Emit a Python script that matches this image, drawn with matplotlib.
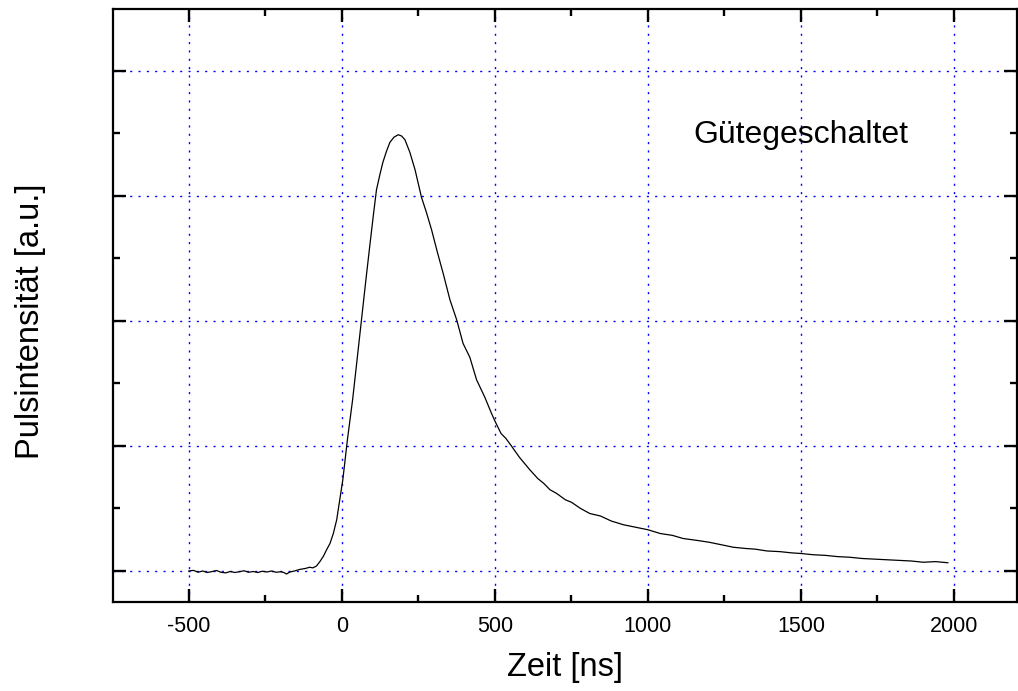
import numpy as np
import matplotlib.pyplot as plt
from matplotlib.ticker import MultipleLocator

plt.rcParams['font.family'] = ['Liberation Sans', 'DejaVu Sans']

# pulse trace (time in ns, intensity in a.u.)
zeit = [-500, -485, -470, -455, -440, -425, -410, -395, -380, -365, -350,
        -335, -320, -305, -290, -275, -260, -245, -230, -215, -200, -190,
        -181, -170, -155, -137, -120, -105, -95, -83, -72, -60, -50, -39,
        -28, -17, -7, 3, 18, 35, 50, 64, 78, 92, 103, 113, 124, 134, 146,
        157, 170, 184, 195, 206, 222, 239, 260, 276, 293, 312, 331, 353,
        375, 396, 418, 440, 467, 489, 500, 520, 536, 554, 580, 597, 614,
        640, 660, 680, 702, 730, 750, 780, 810, 845, 880, 920, 960, 1000,
        1040, 1080, 1115, 1160, 1200, 1240, 1279, 1320, 1350, 1390, 1431,
        1470, 1500, 1540, 1580, 1620, 1660, 1700, 1740, 1780, 1820, 1860,
        1900, 1940, 1980]
intensitaet = [0.0, 0.005, -0.01, 0.0, -0.012, -0.005, 0.004, -0.01,
               -0.015, -0.004, -0.012, -0.006, 0.002, -0.01, -0.004, -0.012,
               -0.002, -0.008, 0.0, -0.01, -0.006, -0.012, -0.024, -0.008,
               0.0, 0.013, 0.02, 0.03, 0.025, 0.04, 0.075, 0.12, 0.17, 0.22,
               0.30, 0.41, 0.57, 0.73, 1.05, 1.37, 1.70, 2.01, 2.32, 2.62,
               2.85, 3.05, 3.17, 3.27, 3.36, 3.43, 3.47, 3.49, 3.48, 3.45,
               3.35, 3.21, 2.99, 2.87, 2.73, 2.55, 2.38, 2.17, 2.01, 1.82,
               1.71, 1.53, 1.39, 1.26, 1.20, 1.10, 1.06, 1.00, 0.91, 0.86,
               0.81, 0.74, 0.70, 0.65, 0.62, 0.57, 0.55, 0.50, 0.46, 0.44,
               0.40, 0.37, 0.35, 0.33, 0.30, 0.285, 0.26, 0.245, 0.23, 0.21,
               0.19, 0.18, 0.175, 0.16, 0.155, 0.145, 0.14, 0.13, 0.125,
               0.115, 0.11, 0.10, 0.095, 0.09, 0.085, 0.08, 0.07, 0.075, 0.066]

x_ticks = [-500, 0, 500, 1000, 1500, 2000]

fig = plt.figure(figsize=(10.18, 6.91), dpi=100)
ax = fig.add_axes([0.111, 0.1288, 0.888, 0.8582])

ax.plot(zeit, intensitaet, color='black', lw=0.9)

ax.set_xlim(-748, 2206)
ax.set_ylim(-0.248, 4.496)
ax.set_xticks(x_ticks)
ax.set_xticklabels([str(v) for v in x_ticks])
ax.xaxis.set_minor_locator(MultipleLocator(250))
ax.yaxis.set_major_locator(MultipleLocator(1))
ax.yaxis.set_minor_locator(MultipleLocator(0.5))
ax.set_yticklabels([])

ax.tick_params(which='both', direction='in', top=True, right=True,
               width=1.7, color='black')
ax.tick_params(which='major', length=9.5)
ax.tick_params(which='minor', length=5)
ax.tick_params(axis='x', which='major', labelsize=15.5, pad=10)

for s in ax.spines.values():
    s.set_linewidth(1.6)

ax.grid(which='major', color='#0000ff', linestyle=(0, (1.5, 4.5)), lw=1.0)

ax.set_xlabel('Zeit [ns]', fontsize=23.5, labelpad=11)
ax.set_ylabel('Pulsintensität [a.u.]', fontsize=23.5)
ax.yaxis.set_label_coords(-0.074, 0.474)

ax.text(1150, 3.49, 'Gütegeschaltet', fontsize=23, ha='left', va='center')

fig.savefig('out.png', dpi=100)
